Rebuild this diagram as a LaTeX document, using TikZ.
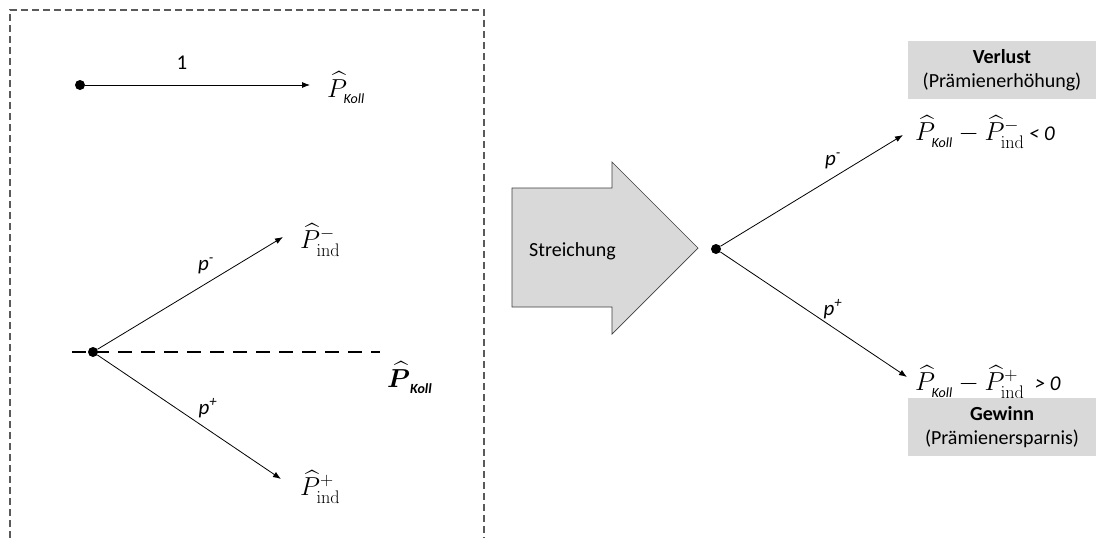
\RequirePackage{fix-cm}
\documentclass[tikz,border=0pt]{standalone}
\usepackage{amsmath}
\usepackage[no-math]{fontspec}
\setmainfont{Carlito}
\usetikzlibrary{arrows.meta}
\definecolor{framegray}{HTML}{5A5A5A}
\definecolor{boxgray}{HTML}{D9D9D9}
\definecolor{edgegray}{HTML}{3F3F3F}
% subscript "Koll" in small italic sans, set a little low
\newcommand{\kollsub}{\raisebox{-3pt}{\fontsize{14}{14}\selectfont\itshape Koll}}
\newcommand{\kollsubbf}{\raisebox{-3pt}{\fontsize{14}{14}\selectfont\bfseries\itshape Koll}}
\newcommand{\PKoll}{\widehat{P}_{\kollsub}}
\newcommand{\PKollBold}{\boldsymbol{\widehat{P}}_{\kollsubbf}}
\newcommand{\mathsize}{\fontsize{26}{31}\selectfont}
\begin{document}
\begin{tikzpicture}[x=1pt,y=-1pt,
  font=\fontsize{21}{25}\selectfont,
  dot/.style={circle, fill=black, inner sep=0pt, minimum size=10pt},
  link/.style={-{Latex[length=8pt,width=6pt]}, line width=0.8pt},
  lbl/.style={inner sep=1pt},
  term/.style={anchor=west, inner sep=0pt, font=\mathsize},
  outcome/.style={fill=boxgray, minimum width=188pt, minimum height=58pt,
    align=center, inner sep=2pt, font=\fontsize{20}{24}\selectfont}]
\useasboundingbox (0,0) rectangle (1101,538);

% dashed frame round the left-hand part
\draw[framegray, line width=1.4pt, dash pattern=on 7pt off 4pt]
  (10,538) -- (10,10) -- (484,10) -- (484,538);

% certain collective premium
\node[dot] (c0) at (80,85) {};
\coordinate (c1) at (310,85);
\draw[link] (c0) -- (c1);
\node[lbl] (one) at (182,63) {1};
\node[term] (pk) at (327,88) {$\PKoll$};

% individual premiums around the collective one
\node[dot] (s0) at (93,352) {};
\coordinate (dl) at (72,352);
\coordinate (dr) at (380,352);
\draw[line width=2.2pt, dash pattern=on 14pt off 9pt] (dl) -- (dr);
\coordinate (up) at (283,237);
\coordinate (dn) at (281,479);
\draw[link] (s0) -- (up);
\draw[link] (s0) -- (dn);
\node[lbl] (pm) at (206,266) {\itshape p\textsuperscript{-}};
\node[lbl] (pp) at (208,408) {\itshape p\textsuperscript{+}};
\node[term] (pim) at (300,240) {$\widehat{P}^{-}_{\mathrm{ind}}$};
\node[term] (pip) at (300,487) {$\widehat{P}^{+}_{\mathrm{ind}}$};
\node[term] (pkb) at (387,378) {$\PKollBold$};

% block arrow
\draw[edgegray, fill=boxgray, line width=0.7pt]
  (512,188) -- (612,188) -- (612,162) -- (698,248) -- (612,334)
  -- (612,307) -- (512,307) -- cycle;
\node[anchor=west, inner sep=0pt, font=\fontsize{20}{24}\selectfont]
  (str) at (529,251) {Streichung};

% outcome after the cancellation
\node[dot] (r0) at (716,249) {};
\coordinate (ru) at (903,135);
\coordinate (rd) at (907,377);
\draw[link] (r0) -- (ru);
\draw[link] (r0) -- (rd);
\node[lbl] (rpm) at (833,161) {\itshape p\textsuperscript{-}};
\node[lbl] (rpp) at (833,309) {\itshape p\textsuperscript{+}};
\node[term] (fm) at (915,132)
  {$\PKoll - \widehat{P}^{-}_{\mathrm{ind}}$\,{\fontsize{21}{25}\selectfont\itshape < 0}};
\node[term] (fp) at (915,382)
  {$\PKoll - \widehat{P}^{+}_{\mathrm{ind}}$\ \,{\fontsize{21}{25}\selectfont\itshape > 0}};

\node[outcome] (loss) at (1002,70)
  {\textbf{Verlust}\\(Prämienerhöhung)};
\node[outcome] (gain) at (1002,427)
  {\textbf{Gewinn}\\(Prämienersparnis)};
\end{tikzpicture}
\end{document}
